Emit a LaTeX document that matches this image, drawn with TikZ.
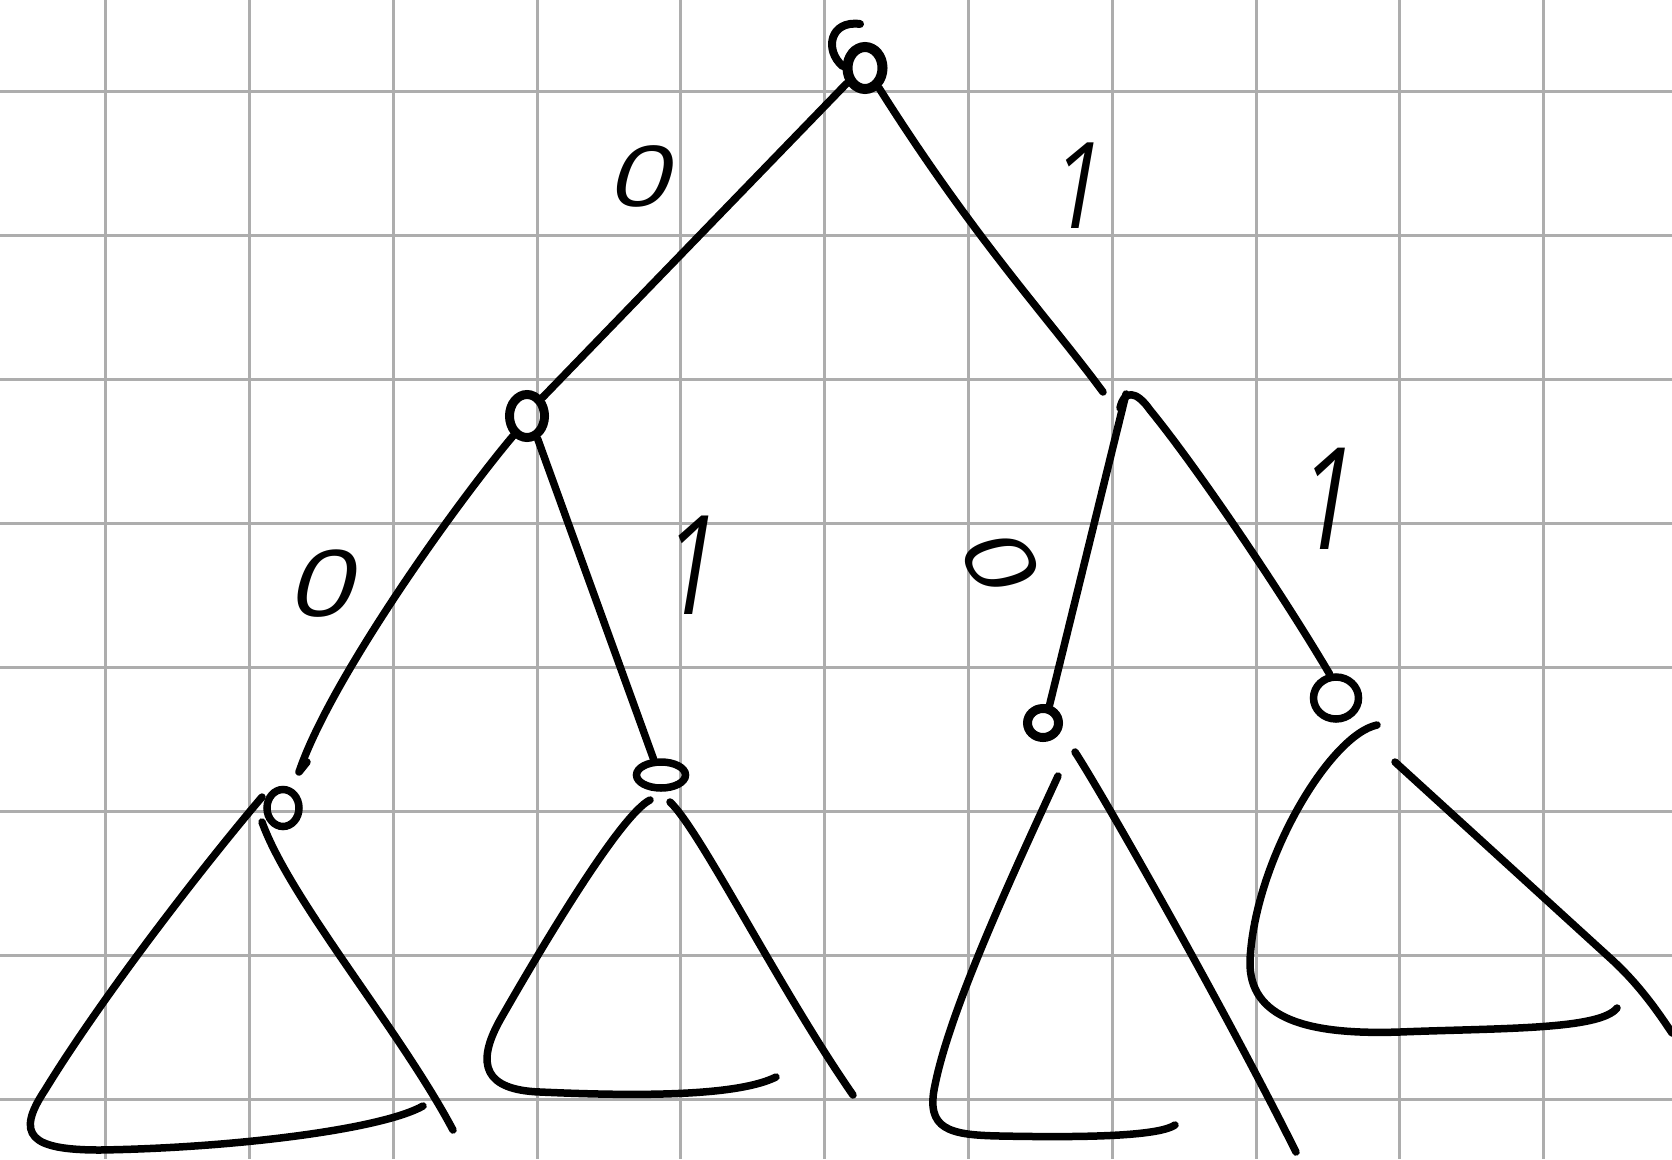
\documentclass[tikz,border=0pt]{standalone}
\usepackage{fontspec}
\setmainfont{Open Sans}
\newfontfamily\handfont{Open Sans}[FakeSlant=0.22]
\usepackage{graphicx}
\usetikzlibrary{shapes.geometric,calc}
\begin{document}
\begin{tikzpicture}[x=1pt,y=-1pt,
  ink/.style={line width=7.5pt, line cap=round, line join=round, draw=black},
  vert/.style={ellipse, draw=black, line width=7.5pt, inner sep=0pt},
  lab/.style={font=\handfont\fontsize{#1}{#1}\selectfont, inner sep=0pt, text=black},
  gridline/.style={line width=3pt, draw=black!32}]
\fill[white] (0,0) rectangle (1672,1159);
\useasboundingbox (0,0) rectangle (1672,1159);
\begin{scope}
\clip (0,0) rectangle (1672,1159);
\foreach \i in {0,...,10} \draw[gridline] ({105.6+143.8*\i},0) -- ({105.6+143.8*\i},1159);
\foreach \j in {0,...,7} \draw[gridline] (0,{91.7+144*\j}) -- (1672,{91.7+144*\j});

% vertices
\node[vert, line width=10pt, minimum width=35pt, minimum height=42pt] (root) at (865,68) {};
\node[vert, line width=9pt, minimum width=35pt, minimum height=43pt] (L) at (527,416) {};
\coordinate (Rin) at (1103,392);
\coordinate (R) at (1126,394);
\node[vert, minimum width=32pt, minimum height=37pt] (LL) at (283,808) {};
\node[vert, minimum width=49pt, minimum height=26pt] (LR) at (661,775) {};
\node[vert, line width=9pt, minimum width=31pt, minimum height=29pt] (RL) at (1043,723) {};
\node[vert, minimum width=45pt, minimum height=42pt] (RR) at (1336,698) {};
\coordinate (LLtop) at (299,772);

% root curl
\draw[ink, line width=8pt] (root.175) .. controls (824,50) and (830,20) .. (860,24);

% edges
\draw[ink] (root.-140) -- (L.50);
\draw[ink] (root.-55) .. controls (975,240) and (1050,320) .. (Rin);
\draw[ink] (L.-125) .. controls (455,505) and (330,680) .. (LLtop) -- ++(8,-10);
\draw[ink] (L.-65) -- (LR.115);
\draw[ink] (R) -- (RL.70);
\draw[ink] ($(R)+(-6,14)$) .. controls ($(R)+(-2,-4)$) and ($(R)+(10,-4)$) .. ($(R)+(24,16)$)
   .. controls (1195,465) and (1280,590) .. (RR.105);

% subtrees
\draw[ink] (262,797) .. controls (200,870) and (100,1000) .. (45,1090)
   .. controls (15,1135) and (30,1150) .. (100,1150)
   .. controls (230,1148) and (380,1130) .. (423,1106);
\draw[ink] (262,822) .. controls (290,900) and (400,1030) .. (453,1130);

\draw[ink] (650,800) .. controls (620,815) and (540,950) .. (500,1020)
   .. controls (475,1065) and (485,1090) .. (540,1092)
   .. controls (650,1097) and (740,1095) .. (776,1077);
\draw[ink] (670,802) .. controls (700,830) and (780,990) .. (853,1095);

\draw[ink] (1058,776) .. controls (1010,880) and (950,1010) .. (935,1085)
   .. controls (925,1130) and (950,1135) .. (1000,1136)
   .. controls (1100,1138) and (1160,1135) .. (1175,1125);
\draw[ink] (1075,752) .. controls (1100,790) and (1220,1000) .. (1296,1152);

\draw[ink] (1377,725) .. controls (1330,735) and (1255,860) .. (1250,960)
   .. controls (1248,1020) and (1310,1035) .. (1400,1032)
   .. controls (1500,1028) and (1600,1030) .. (1617,1008);
\draw[ink] (1395,762) -- (1610,958) .. controls (1640,985) and (1660,1015) .. (1672,1033);
\end{scope}

% labels
\node[lab=84pt] (a0) at (637,176) {\scalebox{1.3}[1]{0}};
\node[lab=120pt] (a1) at (1073,186) {\scalebox{0.8}[1]{1}};
\node[lab=92pt] (b0) at (318,584) {\scalebox{1.25}[1]{0}};
\node[lab=138pt] (b1) at (686,565) {\scalebox{0.75}[1]{1}};
\node[lab=88pt, rotate=-60] (c0) at (997,556) {\scalebox{1.2}[1]{0}};
\node[lab=142pt] (c1) at (1322,499) {\scalebox{0.75}[1]{1}};
\end{tikzpicture}
\end{document}
